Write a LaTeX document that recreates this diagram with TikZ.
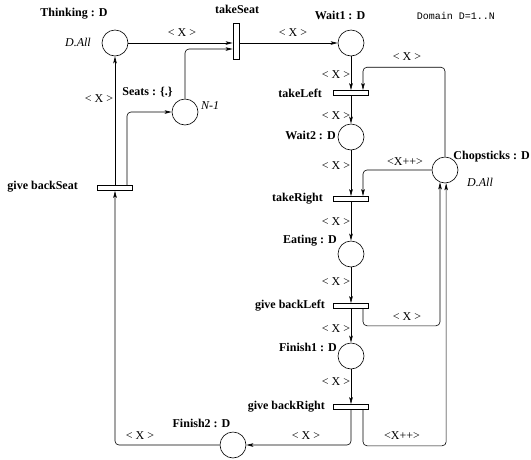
\documentclass[tikz,border=0pt]{standalone}
\usepackage{fontspec}
\setmainfont{Liberation Serif}
\setmonofont{Liberation Mono}
\usetikzlibrary{arrows.meta,positioning}

\tikzset{
  place/.style={circle,draw,minimum size=26pt,inner sep=0pt,line width=0.6pt},
  htrans/.style={rectangle,draw,minimum width=35pt,minimum height=5pt,inner sep=0pt,line width=0.6pt},
  vtrans/.style={rectangle,draw,minimum width=6pt,minimum height=36pt,inner sep=0pt,line width=0.6pt},
  arc/.style={draw,line width=0.6pt,rounded corners=4pt,-{Stealth[length=7pt,width=3.5pt,inset=1.5pt]}},
  pname/.style={font=\bfseries\fontsize{12}{14}\selectfont,inner sep=0pt},
  pinfo/.style={font=\itshape\fontsize{12}{14}\selectfont,inner sep=0pt},
  inscr/.style={font=\fontsize{12}{14}\selectfont,inner sep=0pt},
}

\begin{document}
\begin{tikzpicture}[x=1pt,y=-1pt]
        \useasboundingbox (0,0) rectangle (531,459);
        \node[place] (think) at (115,43) {};
        \node[place] (seats) at (185,112) {};
        \node[vtrans] (takeSeat) at (236,41) {};
        \node[place] (wait1) at (351,43) {};
        \node[htrans] (takeLeft) at (351,93) {};
        \node[place] (wait2) at (351,137) {};
        \node[place] (chop) at (445,170) {};
        \node[htrans] (takeRight) at (351,199) {};
        \node[place] (eating) at (351,254) {};
        \node[htrans] (backLeft) at (351,306) {};
        \node[place] (finish1) at (351,356) {};
        \node[htrans] (backRight) at (351,407) {};
        \node[place] (finish2) at (233,445) {};
        \node[htrans] (backSeat) at (115,188) {};

        \node[pname] (thinkN) at (74,14) {Thinking : D};
        \node[pinfo] (thinkI) at (78,42) {D.All};
        \node[pname] (seatsN) at (147.5,92) {Seats : \{.\}};
        \node[pinfo] (seatsI) at (210,106) {N-1};
        \node[pname] (takeSeatN) at (237,9) {takeSeat};
        \node[pname] (wait1N) at (340,15) {Wait1 : D};
        \node[font=\ttfamily\fontsize{10}{12}\selectfont,inner sep=0pt] (domain) at (456,16) {Domain D=1..N};
        \node[pname,anchor=east] (takeLeftN) at (322,93) {takeLeft};
        \node[pname] (wait2N) at (310.5,135) {Wait2 : D};
        \node[pname,anchor=east] (chopN) at (530,157) {Chopsticks : D};
        \node[pinfo] (chopI) at (480,182) {D.All};
        \node[pname,anchor=east] (takeRightN) at (323,199) {takeRight};
        \node[pname] (eatingN) at (310,241) {Eating : D};
        \node[pname,anchor=east] (backLeftN) at (325,306) {give backLeft};
        \node[pname] (finish1N) at (308,347) {Finish1 : D};
        \node[pname,anchor=east] (backRightN) at (325,407) {give backRight};
        \node[pname] (finish2N) at (201.5,423) {Finish2 : D};
        \node[pname,anchor=east] (backSeatN) at (78,187) {give backSeat};

        \path[arc] (think) -- (think -| takeSeat.west);
        \path[arc] (seats) |- ([yshift=-8pt]takeSeat.west);
        \path[arc] (takeSeat.east |- wait1) -- (wait1);
        \path[arc] (wait1) -- (takeLeft);
        \path[arc] (chop) |- ([xshift=12pt,yshift=23pt]takeLeft.north) -- ([xshift=12pt]takeLeft.north);
        \path[arc] (takeLeft) -- (wait2);
        \path[arc] (wait2) -- (takeRight);
        \path[arc] (chop) -| ([xshift=12pt]takeRight.north);
        \path[arc] (takeRight) -- (eating);
        \path[arc] (eating) -- (backLeft);
        \path[arc] ([xshift=12pt]backLeft.south) -- ++(0,17) -| (chop.-112);
        \path[arc] (backLeft) -- (finish1);
        \path[arc] (finish1) -- (backRight);
        \path[arc] (backRight) |- (finish2);
        \path[arc] ([xshift=12pt]backRight.south) -- ++(0,36) -| (chop.-85);
        \path[arc] (finish2) -| (backSeat);
        \path[arc] (backSeat) -- (think);
        \path[arc] ([xshift=12pt]backSeat.north) |- (seats);

        \node[inscr] (i1) at (182,33) {< X >};
        \node[inscr] (i2) at (293,33) {< X >};
        \node[inscr] (i3) at (336,75) {< X >};
        \node[inscr] (i4) at (407,57) {< X >};
        \node[inscr] (i5) at (336,116) {< X >};
        \node[inscr] (i6) at (405,162) {<X++>};
        \node[inscr] (i7) at (336,166) {< X >};
        \node[inscr] (i8) at (336,222) {< X >};
        \node[inscr] (i9) at (336,282) {< X >};
        \node[inscr] (i10) at (407,317) {< X >};
        \node[inscr] (i11) at (336,329) {< X >};
        \node[inscr] (i12) at (336,382) {< X >};
        \node[inscr] (i13) at (306,436) {< X >};
        \node[inscr] (i14) at (402,436) {<X++>};
        \node[inscr] (i15) at (140,436) {< X >};
        \node[inscr] (i16) at (99,99) {< X >};
\end{tikzpicture}
\end{document}
